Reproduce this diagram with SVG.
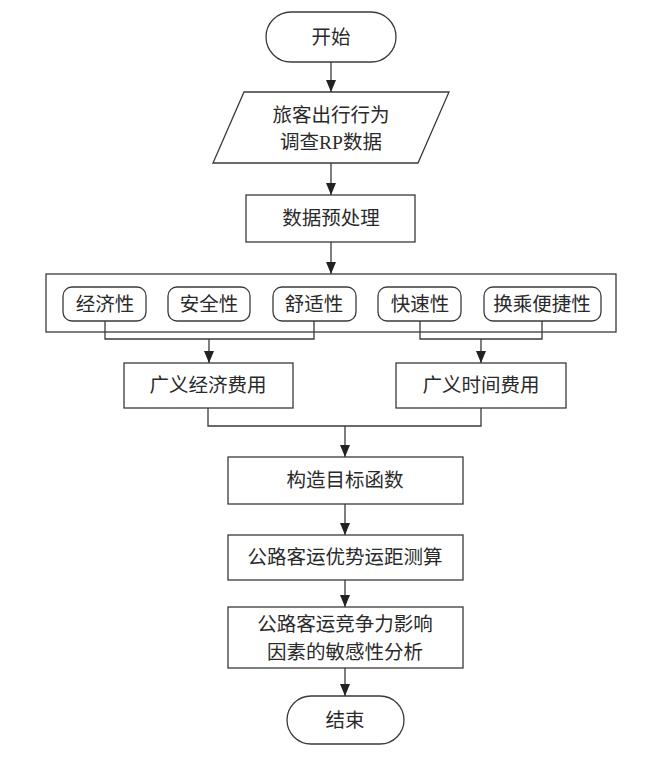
<svg xmlns="http://www.w3.org/2000/svg" width="650" height="757" viewBox="0 0 650 757">
<style>
.s{fill:#fff;stroke:#3a3a3a;stroke-width:1.3}
.t{font-family:"Liberation Serif","Noto Sans CJK SC",serif;font-size:19.5px;fill:#2a2a2a;text-anchor:middle;dominant-baseline:central}
.c{fill:none;stroke:#3a3a3a;stroke-width:1.3}
</style>
<defs>
<marker id="ah" viewBox="0 0 12 10" refX="12" refY="5" markerWidth="12" markerHeight="10" markerUnits="userSpaceOnUse" orient="auto">
<path d="M0,0 L12,5 L0,10 z" fill="#222"/>
</marker>
</defs>
<rect width="650" height="757" fill="#fff"/>
<g id="start"><rect class="s" x="266" y="12" width="130" height="50" rx="25"/><text class="t" x="331" y="37">开始</text></g>
<g id="survey"><polygon class="s" points="244,92 449,92 418,163 213,163"/><text class="t" x="331" y="115">旅客出行行为</text><text class="t" x="331" y="142">调查RP数据</text></g>
<g id="preprocess"><rect class="s" x="246" y="195" width="169" height="47"/><text class="t" x="331" y="218">数据预处理</text></g>
<g id="factors"><rect class="s" x="46" y="274" width="570" height="58"/></g>
<g id="f1"><rect class="s" x="63" y="287" width="83" height="34" rx="9"/><text class="t" x="105" y="304">经济性</text></g>
<g id="f2"><rect class="s" x="168" y="287" width="82" height="34" rx="9"/><text class="t" x="209" y="304">安全性</text></g>
<g id="f3"><rect class="s" x="273" y="287" width="83" height="34" rx="9"/><text class="t" x="314" y="304">舒适性</text></g>
<g id="f4"><rect class="s" x="378" y="287" width="83" height="34" rx="9"/><text class="t" x="420" y="304">快速性</text></g>
<g id="f5"><rect class="s" x="484" y="287" width="117" height="34" rx="9"/><text class="t" x="542" y="304">换乘便捷性</text></g>
<g id="econ"><rect class="s" x="124" y="363" width="169" height="45"/><text class="t" x="208" y="385">广义经济费用</text></g>
<g id="time"><rect class="s" x="396" y="363" width="170" height="45"/><text class="t" x="481" y="385">广义时间费用</text></g>
<g id="objective"><rect class="s" x="228" y="457" width="235" height="47"/><text class="t" x="345" y="480">构造目标函数</text></g>
<g id="distance"><rect class="s" x="228" y="535" width="235" height="45"/><text class="t" x="345" y="557">公路客运优势运距测算</text></g>
<g id="sensitivity"><rect class="s" x="228" y="607" width="235" height="61"/><text class="t" x="345" y="624">公路客运竞争力影响</text><text class="t" x="345" y="652">因素的敏感性分析</text></g>
<g id="end"><rect class="s" x="287" y="696" width="117" height="48" rx="24"/><text class="t" x="345" y="720">结束</text></g>
<g id="connectors">
<path class="c" d="M331,62 V92" marker-end="url(#ah)"/>
<path class="c" d="M331,163 V195" marker-end="url(#ah)"/>
<path class="c" d="M331,242 V274" marker-end="url(#ah)"/>
<path class="c" d="M105,321 V339 H314 V321"/>
<path class="c" d="M209,339 V363" marker-end="url(#ah)"/>
<path class="c" d="M420,321 V339 H542 V321"/>
<path class="c" d="M481,339 V363" marker-end="url(#ah)"/>
<path class="c" d="M208,408 V426 H481 V408"/>
<path class="c" d="M345,426 V457" marker-end="url(#ah)"/>
<path class="c" d="M345,504 V535" marker-end="url(#ah)"/>
<path class="c" d="M345,580 V607" marker-end="url(#ah)"/>
<path class="c" d="M345,668 V696" marker-end="url(#ah)"/>
</g>
</svg>
